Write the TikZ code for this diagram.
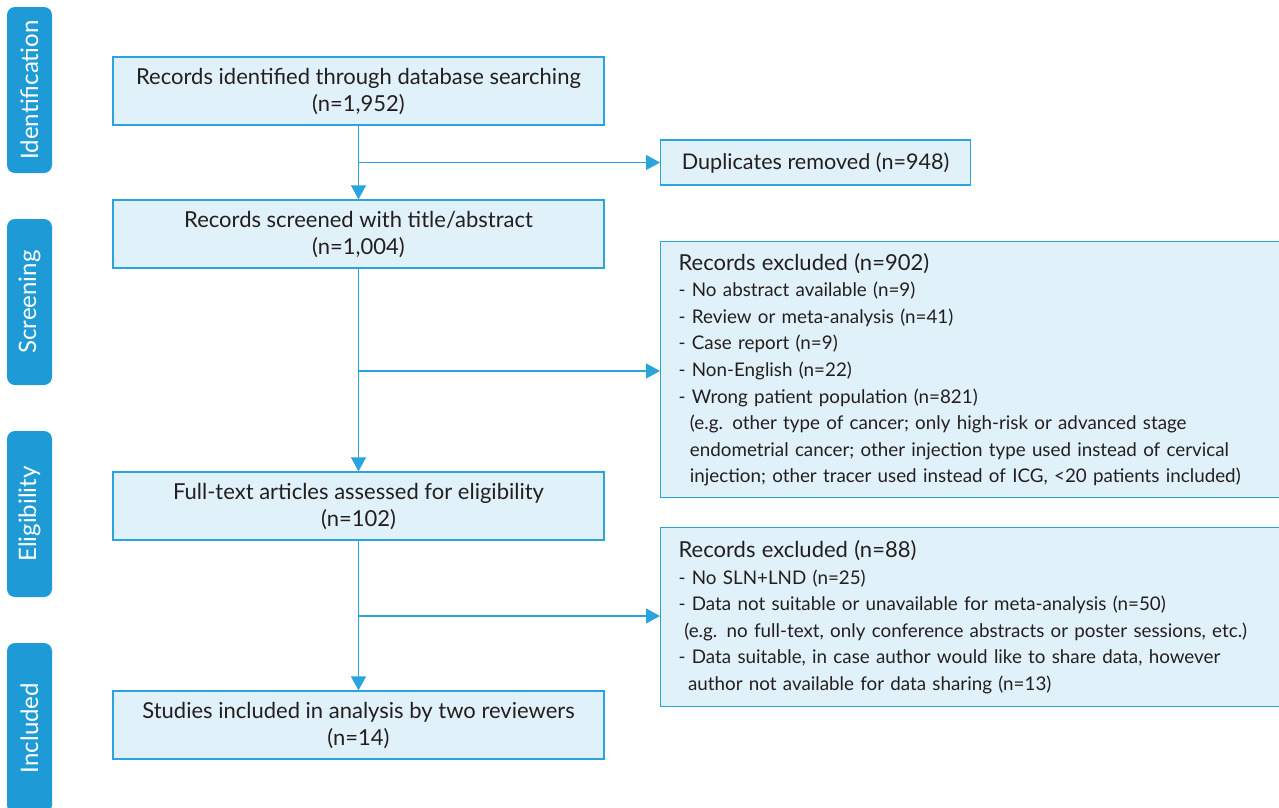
\documentclass[tikz,border=0pt]{standalone}
\usepackage{fontspec}
\setmainfont{Lato}
\usetikzlibrary{arrows.meta}
\definecolor{boxfill}{HTML}{E1F1F9}
\definecolor{boxline}{HTML}{2BA3DC}
\definecolor{barfill}{HTML}{1E9BD7}
\definecolor{txt}{HTML}{231F20}
\newcommand{\hdr}[1]{{\fontsize{22}{28}\selectfont #1}}
\tikzset{
  mainbox/.style={draw=boxline, fill=boxfill, line width=1.3pt, minimum width=491pt, minimum height=68pt, align=center, text=txt, font=\fontsize{22}{27}\selectfont, inner sep=0pt},
  sidebox/.style={draw=boxline, fill=boxfill, line width=1.3pt, align=left, text=txt, font=\fontsize{18.8}{26.6}\selectfont, inner xsep=18pt, inner ysep=0pt},
  phase/.style={fill=barfill, rounded corners=8pt, minimum width=166pt, minimum height=45pt, text=white, font=\fontsize{24}{28}\selectfont, rotate=90, inner sep=0pt},
  arr/.style={draw=boxline, line width=1.3pt, -{Triangle[length=14pt,width=15pt]}}
}
\begin{document}
\begin{tikzpicture}[x=1pt,y=-1pt]
\useasboundingbox (0,0) rectangle (1279,807);
% phase bars
\node[phase] (pid) at (29.5,90) {Identification};
\node[phase] (psc) at (29.5,302) {Screening};
\node[phase] (pel) at (29.5,514) {Eligibility};
\node[phase, minimum width=170pt] (pin) at (29.5,728) {Included};
% main boxes
\node[mainbox] (b1) at (358.5,91) {\rule{0pt}{18pt}Records identified through database searching\\(n=1,952)};
\node[mainbox] (b2) at (358.5,234) {\rule{0pt}{18pt}Records screened with title/abstract\\(n=1,004)};
\node[mainbox] (b3) at (358.5,506) {\rule{0pt}{18pt}Full-text articles assessed for eligibility\\(n=102)};
\node[mainbox] (b4) at (358.5,725) {\rule{0pt}{18pt}Studies included in analysis by two reviewers\\(n=14)};
% side boxes
\node[sidebox, minimum width=310pt, minimum height=45pt, anchor=west, font=\fontsize{21.6}{26}\selectfont] (dup) at (660,162.5) {Duplicates removed (n=948)};
\node[sidebox, text width=583pt, minimum height=256pt, anchor=north west] (ex1) at (660,241) {\hdr{Records excluded (n=902)}\\
- No abstract available (n=9)\\
- Review or meta-analysis (n=41)\\
- Case report (n=9)\\
- Non-English (n=22)\\
- Wrong patient population (n=821)\\
\mbox{\hspace*{0.6em}(e.g. other type of cancer; only high-risk or advanced stage}\\
\mbox{\hspace*{0.6em}endometrial cancer; other injection type used instead of cervical}\\
\mbox{\hspace*{0.6em}injection; other tracer used instead of ICG, <20 patients included)}};
\node[sidebox, text width=583pt, minimum height=179pt, anchor=north west] (ex2) at (660,527) {\hdr{Records excluded (n=88)}\\
- No SLN+LND (n=25)\\
- Data not suitable or unavailable for meta-analysis (n=50)\\
\mbox{\hspace*{0.3em}(e.g. no full-text, only conference abstracts or poster sessions, etc.)}\\
\mbox{- Data suitable, in case author would like to share data, however}\\
\mbox{\hspace*{0.5em}author not available for data sharing (n=13)}};
% connectors
\coordinate (j1) at (358.5,162.5);
\coordinate (j2) at (358.5,371);
\coordinate (j3) at (358.5,616);
\draw[arr] (b1) -- (b2);
\draw[arr] (b2) -- (b3);
\draw[arr] (b3) -- (b4);
\draw[arr] (j1) -- (dup.west);
\draw[arr] (j2) -- (ex1.west |- j2);
\draw[arr] (j3) -- (ex2.west |- j3);
\end{tikzpicture}
\end{document}
